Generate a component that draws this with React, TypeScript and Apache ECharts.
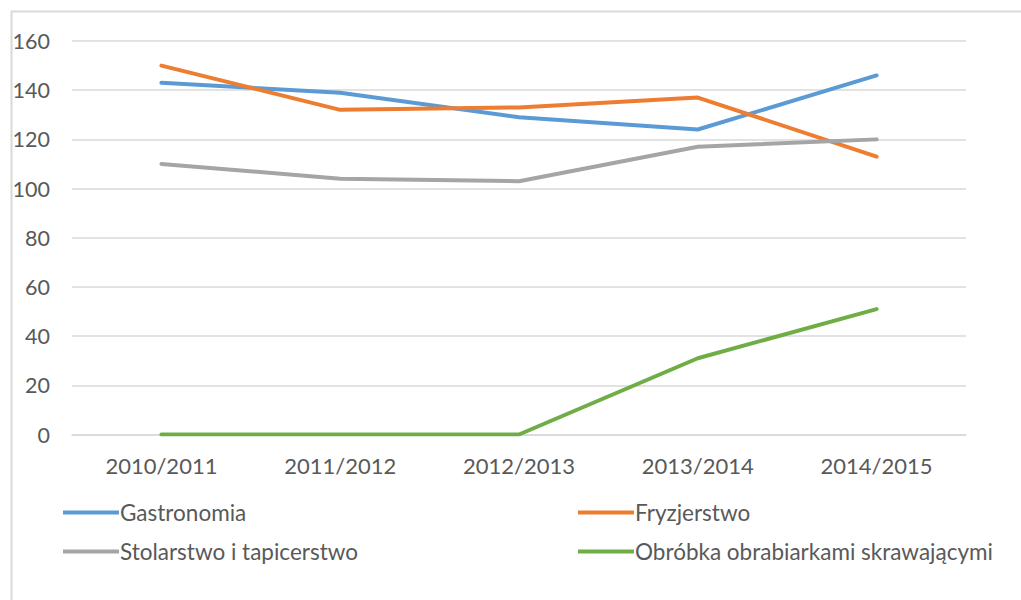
import React, { useEffect, useRef } from "react";
import * as echarts from "echarts";

const categories = ["2010/2011", "2011/2012", "2012/2013", "2013/2014", "2014/2015"];
const gastronomia = [143, 139, 129, 124, 146];
const fryzjerstwo = [150, 132, 133, 137, 113];
const stolarstwo = [110, 104, 103, 117, 120];
const obrobka = [0, 0, 0, 31, 51];
const seriesNames = ["Gastronomia", "Fryzjerstwo", "Stolarstwo i tapicerstwo", "Obróbka obrabiarkami skrawającymi"];
const colors = ["#5B9BD5", "#ED7D31", "#A5A5A5", "#70AD47"];

export default function App() {
  const ref = useRef<HTMLDivElement>(null);
  useEffect(() => {
    if (!ref.current) return;
    const chart = echarts.init(ref.current, null, { renderer: "svg" });
    const font = "Lato";
    const textColor = "#595959";
    const data = [gastronomia, fryzjerstwo, stolarstwo, obrobka];
    const legendCommon = {
      orient: "vertical",
      top: 496,
      itemWidth: 56,
      itemHeight: 4,
      itemGap: 16,
      icon: "rect",
      textStyle: { color: textColor, fontFamily: font, fontSize: 22.5, padding: [0, 0, 0, -4] },
    };
    chart.setOption({
      animation: false,
      backgroundColor: "#ffffff",
      color: colors,
      graphic: [
        {
          type: "rect",
          left: 9,
          top: 9,
          shape: { x: 0, y: 0, width: 1100, height: 700 },
          style: { fill: "none", stroke: "#d9d9d9", lineWidth: 2 },
          silent: true,
        },
      ],
      grid: { left: 72, right: 55, top: 41, bottom: 165.5, containLabel: false },
      xAxis: {
        type: "category",
        data: categories,
        boundaryGap: true,
        axisLine: { show: true, lineStyle: { color: "#d9d9d9", width: 1.5 } },
        axisTick: { show: false },
        axisLabel: { color: textColor, fontFamily: font, fontSize: 22, margin: 20 },
      },
      yAxis: {
        type: "value",
        min: 0,
        max: 160,
        interval: 20,
        axisLine: { show: false },
        axisTick: { show: false },
        splitLine: { lineStyle: { color: "#d9d9d9", width: 1.5 } },
        axisLabel: { color: textColor, fontFamily: font, fontSize: 21.5, margin: 22 },
      },
      legend: [
        { ...legendCommon, left: 58, data: [seriesNames[0], seriesNames[2]] },
        { ...legendCommon, left: 573, data: [seriesNames[1], seriesNames[3]] },
      ],
      series: data.map((d, i) => ({
        name: seriesNames[i],
        type: "line",
        data: d,
        symbol: "none",
        lineStyle: { width: 4, color: colors[i], cap: "round", join: "round" },
        itemStyle: { color: colors[i] },
      })),
    });
    return () => chart.dispose();
  }, []);
  return (
    <div
      ref={ref}
      style={{ position: "fixed", left: 0, top: 0, width: 1021, height: 600 }}
    />
  );
}
